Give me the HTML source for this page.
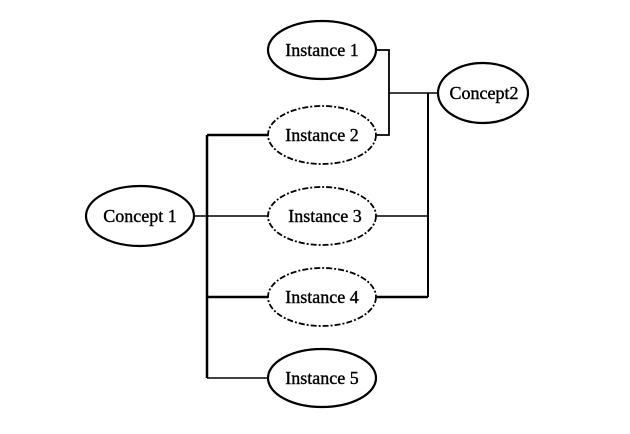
<!DOCTYPE html>
<html><head><style>body{margin:0;background:#fff}</style></head><body>
<svg width="630" height="429" xmlns="http://www.w3.org/2000/svg" font-family="Liberation Serif, serif" font-size="18" text-anchor="middle">
<g stroke="#000" fill="none">
<path d="M376 50H389V135H376" stroke-width="1.8"/>
<path d="M389 93H438" stroke-width="1.5"/>
<path d="M428 93V297" stroke-width="2"/>
<path d="M376 216H428" stroke-width="1.5"/>
<path d="M376 297H428" stroke-width="2.5"/>
<path d="M194 216H268" stroke-width="1.5"/>
<path d="M207 135V378" stroke-width="2.5"/>
<path d="M207 135H268" stroke-width="2.5"/>
<path d="M207 297H268" stroke-width="2.5"/>
<path d="M207 378H268" stroke-width="1.5"/>
<ellipse cx="322" cy="50" rx="54" ry="29" stroke-width="2.2"/>
<ellipse cx="322" cy="135" rx="54" ry="29" stroke-width="1.8" stroke-dasharray="6 2 2 2"/>
<ellipse cx="322" cy="216" rx="54" ry="29" stroke-width="1.8" stroke-dasharray="6 2 2 2"/>
<ellipse cx="322" cy="297" rx="54" ry="29" stroke-width="1.8" stroke-dasharray="6 2 2 2"/>
<ellipse cx="322" cy="378" rx="54" ry="29" stroke-width="2.2"/>
<ellipse cx="140" cy="216" rx="54" ry="30" stroke-width="2.2"/>
<ellipse cx="483" cy="93" rx="45" ry="30" stroke-width="2.2"/>
</g>
<g fill="#000" stroke="#000" stroke-width="0.4">
<text x="322" y="56">Instance 1</text>
<text x="322" y="141">Instance 2</text>
<text x="325" y="222">Instance 3</text>
<text x="322" y="303">Instance 4</text>
<text x="322" y="384">Instance 5</text>
<text x="140" y="222">Concept 1</text>
<text x="484" y="99">Concept2</text>
</g>
</svg>
</body></html>
